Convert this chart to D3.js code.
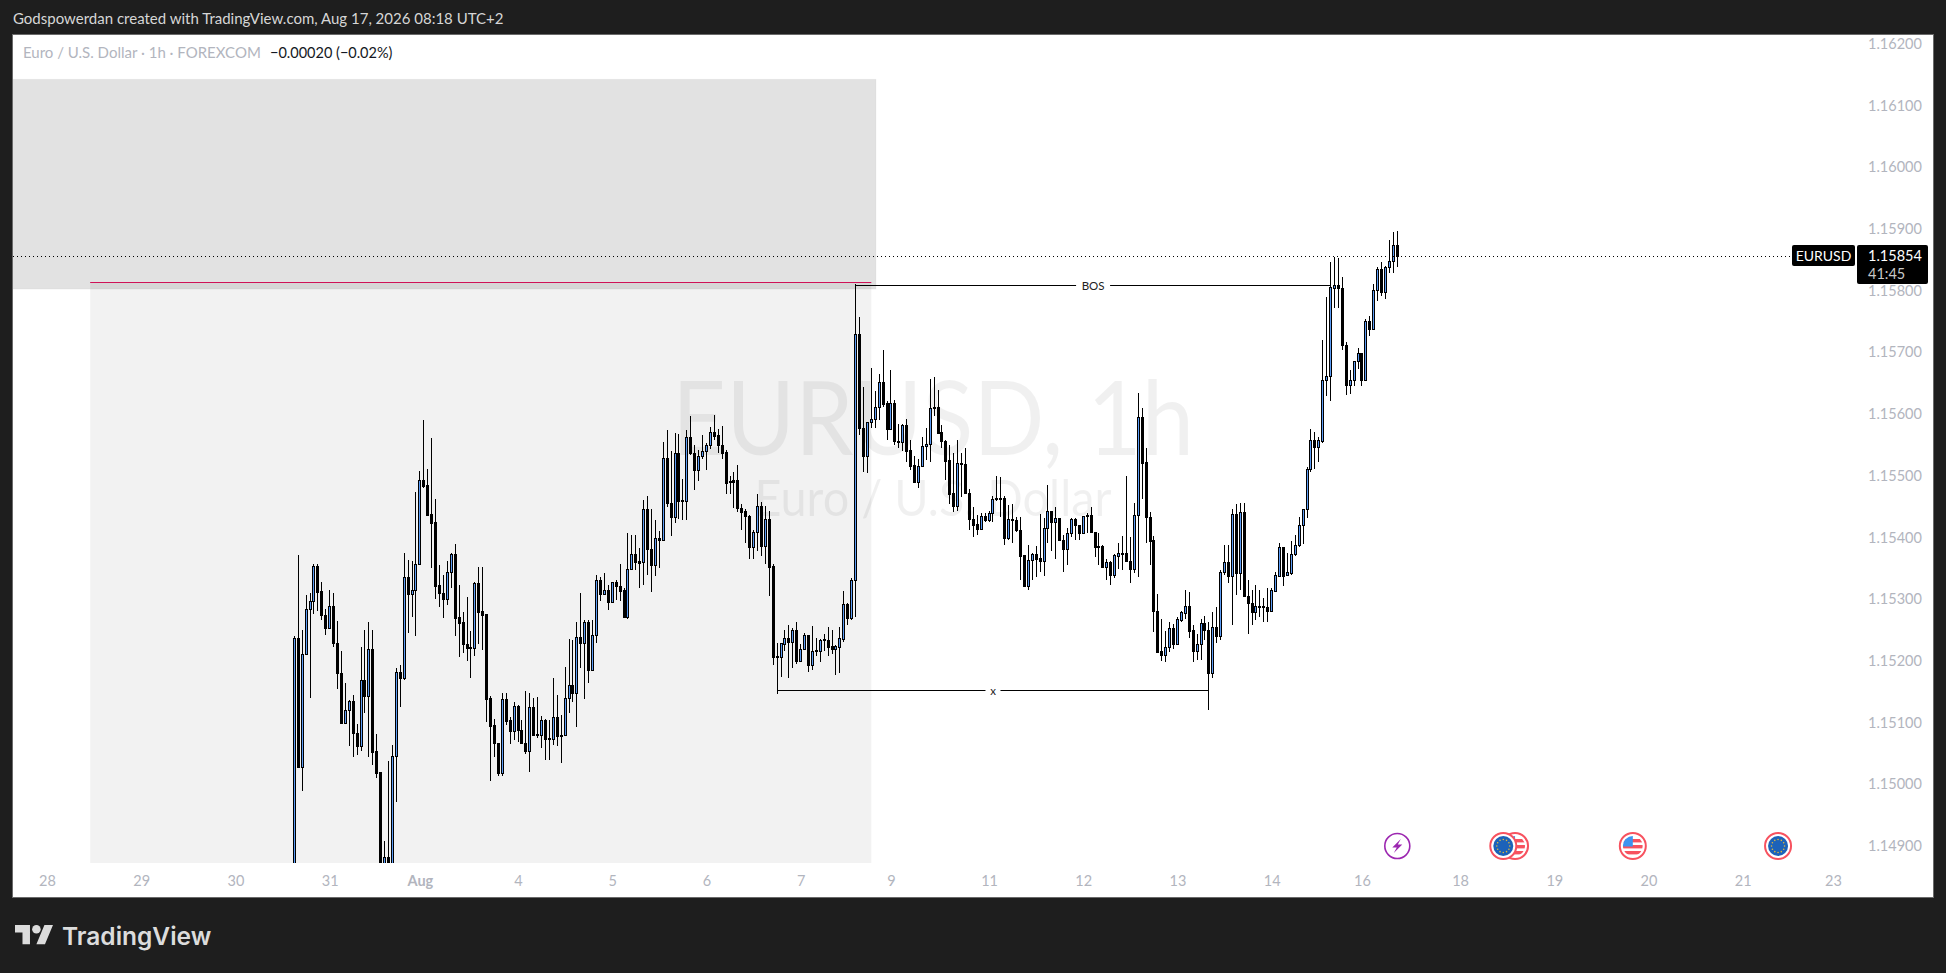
<!DOCTYPE html>
<html>
<head>
<meta charset="utf-8">
<title>EURUSD, 1h</title>
<script src="https://cdn.jsdelivr.net/npm/d3@7"></script>
<style>
  html, body { margin: 0; padding: 0; background: #1e1e1e; overflow: hidden; }
  svg { display: block; }
  text { font-family: "Lato", "Open Sans", sans-serif; }
</style>
</head>
<body>
<script>
// Candles, oldest first
const opens = [
  1.14700,1.15235,1.15027,1.15209,1.15283,1.15295,1.15352,1.15311,1.15273,1.15251,
  1.15287,1.15228,1.15178,1.15097,1.15118,1.15133,1.15082,1.15061,1.15168,1.15142,
  1.15218,1.15052,1.15018,1.14800,1.14880,1.14790,1.15045,1.15180,1.15170,1.15334,
  1.15306,1.15313,1.15355,1.15492,1.15483,1.15436,1.15423,1.15321,1.15309,1.15298,
  1.15342,1.15372,1.15269,1.15261,1.15225,1.15221,1.15220,1.15325,1.15279,1.15274,
  1.15138,1.15094,1.15066,1.15017,1.15136,1.15102,1.15084,1.15126,1.15087,1.15066,
  1.15053,1.15123,1.15080,1.15079,1.15102,1.15073,1.15072,1.15107,1.15079,1.15079,
  1.15138,1.15159,1.15147,1.15237,1.15228,1.15261,1.15184,1.15240,1.15329,1.15306,
  1.15313,1.15294,1.15327,1.15319,1.15313,1.15269,1.15347,1.15371,1.15360,1.15358,
  1.15445,1.15379,1.15354,1.15397,1.15395,1.15527,1.15455,1.15432,1.15535,1.15459,
  1.15457,1.15562,1.15536,1.15508,1.15531,1.15538,1.15548,1.15570,1.15564,1.15549,
  1.15537,1.15490,1.15491,1.15491,1.15447,1.15441,1.15433,1.15383,1.15408,1.15450,
  1.15385,1.15428,1.15352,1.15206,1.15204,1.15226,1.15235,1.15229,1.15249,1.15199,
  1.15217,1.15240,1.15191,1.15216,1.15214,1.15234,1.15233,1.15222,1.15218,1.15221,
  1.15234,1.15290,1.15268,1.15330,1.15729,1.15576,1.15531,1.15585,1.15590,1.15610,
  1.15650,1.15616,1.15575,1.15616,1.15555,1.15553,1.15580,1.15540,1.15516,1.15489,
  1.15514,1.15546,1.15550,1.15610,1.15610,1.15569,1.15554,1.15524,1.15470,1.15449,
  1.15519,1.15518,1.15470,1.15429,1.15420,1.15412,1.15433,1.15426,1.15438,1.15462,
  1.15463,1.15462,1.15398,1.15429,1.15427,1.15410,1.15370,1.15320,1.15362,1.15371,
  1.15365,1.15361,1.15413,1.15441,1.15424,1.15430,1.15394,1.15379,1.15405,1.15428,
  1.15418,1.15405,1.15435,1.15435,1.15407,1.15385,1.15384,1.15351,1.15358,1.15337,
  1.15369,1.15373,1.15373,1.15360,1.15348,1.15435,1.15593,1.15520,1.15431,1.15394,
  1.15280,1.15214,1.15208,1.15221,1.15251,1.15225,1.15265,1.15276,1.15288,1.15248,
  1.15215,1.15225,1.15259,1.15249,1.15179,1.15254,1.15239,1.15343,1.15358,1.15336,
  1.15437,1.15341,1.15439,1.15304,1.15293,1.15278,1.15288,1.15287,1.15285,1.15280,
  1.15312,1.15336,1.15383,1.15337,1.15341,1.15371,1.15387,1.15418,1.15444,1.15509,
  1.15557,1.15545,1.15555,1.15653,1.15660,1.15803,1.15807,1.15802,1.15711,1.15646,
  1.15653,1.15684,1.15698,1.15654,1.15749,1.15737,1.15800,1.15834,1.15797,1.15836,
  1.15847,1.15873
];
const highs = [
  1.15238,1.15370,1.15248,1.15305,1.15308,1.15355,1.15355,1.15326,1.15282,1.15313,
  1.15308,1.15263,1.15214,1.15162,1.15135,1.15143,1.15096,1.15221,1.15248,1.15261,
  1.15248,1.15080,1.15018,1.14907,1.15036,1.15062,1.15187,1.15192,1.15374,1.15362,
  1.15360,1.15472,1.15506,1.15589,1.15509,1.15559,1.15461,1.15354,1.15338,1.15360,
  1.15374,1.15388,1.15321,1.15278,1.15302,1.15247,1.15326,1.15350,1.15350,1.15274,
  1.15141,1.15104,1.15066,1.15146,1.15146,1.15108,1.15131,1.15127,1.15103,1.15150,
  1.15146,1.15138,1.15140,1.15109,1.15105,1.15103,1.15171,1.15143,1.15111,1.15189,
  1.15234,1.15232,1.15261,1.15308,1.15265,1.15265,1.15265,1.15337,1.15334,1.15341,
  1.15321,1.15327,1.15330,1.15355,1.15316,1.15405,1.15403,1.15402,1.15381,1.15459,
  1.15465,1.15444,1.15426,1.15409,1.15553,1.15572,1.15538,1.15568,1.15566,1.15493,
  1.15572,1.15595,1.15548,1.15541,1.15564,1.15552,1.15577,1.15597,1.15575,1.15579,
  1.15540,1.15498,1.15504,1.15516,1.15453,1.15445,1.15435,1.15410,1.15469,1.15456,
  1.15449,1.15441,1.15356,1.15228,1.15227,1.15248,1.15257,1.15251,1.15261,1.15226,
  1.15244,1.15240,1.15255,1.15235,1.15234,1.15242,1.15253,1.15248,1.15224,1.15253,
  1.15312,1.15293,1.15333,1.15809,1.15756,1.15643,1.15585,1.15673,1.15636,1.15664,
  1.15702,1.15620,1.15670,1.15622,1.15583,1.15583,1.15590,1.15556,1.15530,1.15525,
  1.15562,1.15576,1.15656,1.15658,1.15637,1.15581,1.15557,1.15548,1.15535,1.15557,
  1.15535,1.15543,1.15477,1.15448,1.15435,1.15438,1.15438,1.15442,1.15466,1.15498,
  1.15497,1.15465,1.15451,1.15452,1.15432,1.15432,1.15370,1.15387,1.15374,1.15385,
  1.15436,1.15430,1.15484,1.15442,1.15448,1.15430,1.15403,1.15413,1.15430,1.15430,
  1.15418,1.15434,1.15438,1.15448,1.15407,1.15405,1.15386,1.15364,1.15360,1.15372,
  1.15389,1.15401,1.15498,1.15400,1.15454,1.15632,1.15608,1.15543,1.15439,1.15401,
  1.15307,1.15267,1.15247,1.15261,1.15258,1.15269,1.15280,1.15313,1.15310,1.15256,
  1.15242,1.15267,1.15271,1.15261,1.15278,1.15286,1.15346,1.15386,1.15386,1.15444,
  1.15453,1.15454,1.15455,1.15329,1.15314,1.15321,1.15314,1.15300,1.15316,1.15316,
  1.15342,1.15390,1.15383,1.15373,1.15393,1.15403,1.15431,1.15444,1.15512,1.15575,
  1.15569,1.15562,1.15719,1.15788,1.15845,1.15853,1.15851,1.15820,1.15715,1.15670,
  1.15685,1.15705,1.15698,1.15753,1.15758,1.15810,1.15836,1.15845,1.15838,1.15880,
  1.15893,1.15895
];
const lows = [
  1.14650,1.15025,1.14987,1.15208,1.15138,1.15275,1.15280,1.15264,1.15241,1.15251,
  1.15221,1.15153,1.15097,1.15097,1.15061,1.15043,1.15046,1.15053,1.15114,1.15043,
  1.15030,1.15009,1.14780,1.14790,1.14770,1.14760,1.14970,1.15123,1.15168,1.15244,
  1.15270,1.15238,1.15355,1.15478,1.15435,1.15349,1.15299,1.15285,1.15268,1.15289,
  1.15316,1.15238,1.15205,1.15211,1.15199,1.15171,1.15207,1.15226,1.15216,1.15100,
  1.15004,1.15042,1.15012,1.15012,1.15094,1.15063,1.15070,1.15067,1.15063,1.15048,
  1.15019,1.15077,1.15073,1.15058,1.15037,1.15037,1.15062,1.15061,1.15033,1.15076,
  1.15114,1.15132,1.15092,1.15187,1.15136,1.15163,1.15184,1.15228,1.15296,1.15305,
  1.15281,1.15294,1.15297,1.15296,1.15268,1.15267,1.15346,1.15346,1.15317,1.15321,
  1.15337,1.15310,1.15336,1.15349,1.15394,1.15448,1.15401,1.15422,1.15429,1.15427,
  1.15427,1.15532,1.15475,1.15490,1.15525,1.15507,1.15542,1.15556,1.15536,1.15525,
  1.15469,1.15469,1.15447,1.15440,1.15410,1.15390,1.15364,1.15364,1.15377,1.15369,
  1.15356,1.15304,1.15191,1.15145,1.15173,1.15215,1.15171,1.15187,1.15193,1.15199,
  1.15217,1.15181,1.15184,1.15206,1.15197,1.15215,1.15207,1.15210,1.15175,1.15179,
  1.15229,1.15257,1.15264,1.15270,1.15565,1.15505,1.15503,1.15576,1.15576,1.15589,
  1.15610,1.15557,1.15574,1.15548,1.15543,1.15539,1.15520,1.15508,1.15489,1.15479,
  1.15513,1.15524,1.15520,1.15596,1.15568,1.15543,1.15491,1.15453,1.15439,1.15442,
  1.15464,1.15469,1.15410,1.15400,1.15403,1.15412,1.15423,1.15423,1.15424,1.15457,
  1.15432,1.15387,1.15394,1.15389,1.15408,1.15330,1.15319,1.15314,1.15329,1.15335,
  1.15343,1.15336,1.15389,1.15377,1.15364,1.15392,1.15343,1.15354,1.15400,1.15394,
  1.15394,1.15405,1.15405,1.15405,1.15367,1.15353,1.15351,1.15330,1.15322,1.15332,
  1.15347,1.15345,1.15358,1.15325,1.15341,1.15335,1.15461,1.15389,1.15353,1.15246,
  1.15212,1.15199,1.15197,1.15213,1.15218,1.15225,1.15262,1.15266,1.15236,1.15197,
  1.15200,1.15200,1.15232,1.15118,1.15170,1.15227,1.15232,1.15337,1.15325,1.15257,
  1.15305,1.15314,1.15302,1.15242,1.15257,1.15264,1.15270,1.15262,1.15262,1.15280,
  1.15312,1.15335,1.15320,1.15337,1.15338,1.15369,1.15383,1.15388,1.15430,1.15505,
  1.15509,1.15521,1.15551,1.15628,1.15620,1.15771,1.15771,1.15702,1.15629,1.15631,
  1.15644,1.15672,1.15644,1.15654,1.15725,1.15737,1.15782,1.15790,1.15785,1.15827,
  1.15827,1.15837
];
const closes = [
  1.15235,1.15027,1.15209,1.15283,1.15295,1.15352,1.15310,1.15272,1.15251,1.15287,
  1.15228,1.15178,1.15097,1.15118,1.15133,1.15081,1.15061,1.15168,1.15142,1.15218,
  1.15051,1.15017,1.14800,1.14880,1.14790,1.15045,1.15180,1.15170,1.15334,1.15306,
  1.15313,1.15355,1.15492,1.15482,1.15435,1.15422,1.15320,1.15309,1.15298,1.15342,
  1.15372,1.15268,1.15260,1.15225,1.15220,1.15220,1.15325,1.15278,1.15273,1.15137,
  1.15093,1.15066,1.15017,1.15136,1.15101,1.15084,1.15126,1.15087,1.15066,1.15052,
  1.15123,1.15078,1.15079,1.15102,1.15071,1.15072,1.15107,1.15077,1.15078,1.15138,
  1.15159,1.15147,1.15237,1.15228,1.15261,1.15184,1.15240,1.15329,1.15306,1.15313,
  1.15294,1.15327,1.15319,1.15312,1.15269,1.15347,1.15371,1.15359,1.15357,1.15445,
  1.15379,1.15354,1.15397,1.15395,1.15527,1.15455,1.15432,1.15535,1.15458,1.15458,
  1.15562,1.15536,1.15508,1.15531,1.15538,1.15548,1.15570,1.15563,1.15549,1.15536,
  1.15487,1.15488,1.15489,1.15447,1.15440,1.15433,1.15383,1.15408,1.15450,1.15385,
  1.15428,1.15351,1.15205,1.15204,1.15227,1.15235,1.15229,1.15249,1.15199,1.15217,
  1.15240,1.15191,1.15215,1.15214,1.15232,1.15232,1.15221,1.15218,1.15222,1.15235,
  1.15290,1.15268,1.15329,1.15729,1.15576,1.15531,1.15585,1.15590,1.15610,1.15650,
  1.15615,1.15575,1.15616,1.15554,1.15553,1.15580,1.15539,1.15515,1.15489,1.15514,
  1.15546,1.15550,1.15608,1.15609,1.15568,1.15554,1.15523,1.15469,1.15449,1.15519,
  1.15517,1.15470,1.15428,1.15419,1.15412,1.15433,1.15426,1.15438,1.15460,1.15460,
  1.15462,1.15398,1.15428,1.15428,1.15410,1.15369,1.15320,1.15362,1.15371,1.15364,
  1.15361,1.15413,1.15441,1.15424,1.15430,1.15394,1.15379,1.15405,1.15428,1.15418,
  1.15405,1.15434,1.15434,1.15407,1.15383,1.15384,1.15351,1.15358,1.15337,1.15370,
  1.15373,1.15372,1.15360,1.15348,1.15435,1.15593,1.15519,1.15431,1.15393,1.15280,
  1.15213,1.15208,1.15221,1.15251,1.15225,1.15266,1.15277,1.15288,1.15247,1.15215,
  1.15225,1.15259,1.15249,1.15179,1.15254,1.15239,1.15343,1.15358,1.15336,1.15437,
  1.15341,1.15439,1.15303,1.15293,1.15278,1.15288,1.15286,1.15286,1.15280,1.15313,
  1.15337,1.15383,1.15336,1.15342,1.15371,1.15387,1.15418,1.15444,1.15509,1.15557,
  1.15545,1.15556,1.15653,1.15660,1.15804,1.15807,1.15802,1.15711,1.15646,1.15653,
  1.15684,1.15698,1.15654,1.15749,1.15737,1.15800,1.15834,1.15797,1.15836,1.15847,
  1.15873,1.15854
];

// Axis ticks. Day ticks sit on a bar number, counted from the first candle
const priceTicks = [1.149, 1.150, 1.151, 1.152, 1.153, 1.154, 1.155, 1.156, 1.157, 1.158, 1.159, 1.160, 1.161, 1.162];
const dayTickBars = [-63, -39, -15, 9, 32, 57, 81, 105, 129, 152, 177, 201, 225, 249, 272, 297, 321, 345, 369, 392];
const dayTickLabels = ["28", "29", "30", "31", "Aug", "4", "5", "6", "7", "9", "11", "12", "13", "14", "16", "18", "19", "20", "21", "23"];

// Drawings on the chart, bar number and price
const zoneBars = [-72, 148.2];
const zonePrices = [1.16141, 1.15801];
const rangeBars = [-52, 147];
const rangePrices = [1.15812, 1.1400];
const bosBars = [143, 264];
const bosPrice = 1.15808;
const lowBars = [123, 233];
const lowPrice = 1.15151;
const lastPrice = 1.15854;

// Calendar events along the bottom of the pane
const eventBars = [281, 311, 308, 341, 378];
const eventKinds = ["bolt", "us", "eu", "us", "eu"];

let svg = null;
let x = null, y = null;
const width = 1946, height = 973;
const pane = {left: 13, top: 35, right: 1933, bottom: 897, chartBottom: 863};

// Main Process
appendSvg("body");
setupScales();
appendDrawingsBehind();
appendWatermark();
appendCandles();
appendDrawingsFront();
appendAxes();
appendPriceLabels();
appendEvents();
appendHeader();
appendLogo();

function appendSvg(domElement) {
    svg = d3.select(domElement).append("svg")
            .attr("width", width)
            .attr("height", height);

    svg.append("rect")
        .attr("width", width).attr("height", height)
        .attr("fill", "#1e1e1e");

    svg.append("rect")
        .attr("x", pane.left - 0.5).attr("y", pane.top - 0.5)
        .attr("width", pane.right - pane.left + 1)
        .attr("height", pane.bottom - pane.top + 1)
        .attr("fill", "#fff")
        .attr("stroke", "#6a6a6a");

    svg.append("clipPath").attr("id", "chart-clip")
        .append("rect")
        .attr("x", pane.left).attr("y", pane.top)
        .attr("width", pane.right - pane.left)
        .attr("height", pane.chartBottom - pane.top);
}

function setupScales() {
    x = d3.scaleLinear().domain([0, 281]).range([294.3, 1397.3]);
    y = d3.scaleLinear().domain([1.149, 1.162]).range([845, 42.9]);
}

function appendDrawingsBehind() {
    const g = svg.append("g").attr("clip-path", "url(#chart-clip)");

    g.append("rect")
        .attr("x", x(zoneBars[0]))
        .attr("y", y(zonePrices[0]))
        .attr("width", x(zoneBars[1]) - x(zoneBars[0]))
        .attr("height", y(zonePrices[1]) - y(zonePrices[0]))
        .attr("fill", "rgba(0,0,0,0.115)")
        .attr("stroke", "rgba(0,0,0,0.03)");

    g.append("rect")
        .attr("x", x(rangeBars[0]))
        .attr("y", y(rangePrices[0]))
        .attr("width", x(rangeBars[1]) - x(rangeBars[0]))
        .attr("height", y(rangePrices[1]) - y(rangePrices[0]))
        .attr("fill", "rgba(0,0,0,0.05)");

    g.append("line")
        .attr("x1", x(rangeBars[0])).attr("x2", x(rangeBars[1]))
        .attr("y1", Math.round(y(rangePrices[0])) + 0.5)
        .attr("y2", Math.round(y(rangePrices[0])) + 0.5)
        .attr("stroke", "#cf1257");
}

// Symbol name printed faintly behind the candles
function appendWatermark() {
    const g = svg.append("g").attr("fill", "rgba(0,0,0,0.06)").attr("text-anchor", "middle")
        .style("font-family", "'Noto Sans'");

    g.append("text").attr("x", 933).attr("y", 455)
        .attr("font-size", 102)
        .attr("textLength", 522)
        .attr("lengthAdjust", "spacingAndGlyphs")
        .text("EURUSD, 1h");
    g.append("text").attr("x", 933).attr("y", 516)
        .attr("font-size", 51)
        .attr("textLength", 357)
        .attr("lengthAdjust", "spacingAndGlyphs")
        .text("Euro / U.S. Dollar");
}

function appendCandles() {
    const g = svg.append("g").attr("clip-path", "url(#chart-clip)");
    const bars = g.selectAll("g.candle")
        .data(opens.map((d, i) => i))
        .enter().append("g")
        .attr("class", "candle");

    bars.append("line")
        .attr("x1", i => Math.floor(x(i)) + 0.5)
        .attr("x2", i => Math.floor(x(i)) + 0.5)
        .attr("y1", i => Math.round(y(highs[i])))
        .attr("y2", i => Math.round(y(lows[i])))
        .attr("stroke", "#000");

    bars.append("rect")
        .attr("x", i => Math.floor(x(i)) - 0.5)
        .attr("width", 2)
        .attr("y", i => Math.round(y(Math.max(opens[i], closes[i]))) + 0.5)
        .attr("height", i => Math.max(1, Math.round(y(Math.min(opens[i], closes[i]))) - Math.round(y(Math.max(opens[i], closes[i])))))
        .attr("fill", i => closes[i] >= opens[i] ? "#5b9cf6" : "#000")
        .attr("stroke", "#000");
}

function appendLevel(bars, price, label, gapWidth) {
    const ly = Math.round(y(price)) + 0.5;
    const x1 = x(bars[0]), x2 = x(bars[1]), mid = (x1 + x2) / 2;
    const g = svg.append("g");

    g.append("line").attr("x1", x1).attr("x2", mid - gapWidth / 2)
        .attr("y1", ly).attr("y2", ly).attr("stroke", "#000");
    g.append("line").attr("x1", mid + gapWidth / 2).attr("x2", x2)
        .attr("y1", ly).attr("y2", ly).attr("stroke", "#000");
    g.append("text").attr("x", mid).attr("y", ly + 4)
        .attr("text-anchor", "middle")
        .attr("font-size", 11.5)
        .attr("fill", "#222")
        .text(label);
}

function appendDrawingsFront() {
    appendLevel(bosBars, bosPrice, "BOS", 34);
    appendLevel(lowBars, lowPrice, "x", 15);

    // dotted last price line
    svg.append("line")
        .attr("x1", pane.left).attr("x2", 1792)
        .attr("y1", Math.round(y(lastPrice)) + 0.5)
        .attr("y2", Math.round(y(lastPrice)) + 0.5)
        .attr("stroke", "#000")
        .attr("stroke-dasharray", "1 3");
}

function appendAxes() {
    const yAxis = svg.append("g")
        .attr("transform", "translate(1868,0)")
        .call(d3.axisRight(y).tickValues(priceTicks).tickFormat(d3.format(".5f")).tickSize(0).tickPadding(0));
    yAxis.select(".domain").remove();
    yAxis.selectAll("text")
        .attr("dy", "0.38em")
        .attr("fill", "#b2b5be")
        .attr("font-size", 14.5)
        .style("font-family", "'Lato'");

    const xAxis = svg.append("g")
        .attr("transform", "translate(0,872)")
        .call(d3.axisBottom(x).tickValues(dayTickBars).tickFormat((d, i) => dayTickLabels[i]).tickSize(0).tickPadding(4));
    xAxis.select(".domain").remove();
    xAxis.selectAll("text")
        .attr("fill", "#b2b5be")
        .attr("font-size", 14.5)
        .attr("font-weight", (d, i) => dayTickLabels[i] === "Aug" ? 700 : 400);
}

// Boxes at the right hand side, for the symbol and the last price
function appendPriceLabels() {
    const ly = Math.round(y(lastPrice));

    svg.append("rect").attr("x", 1792).attr("y", ly - 11).attr("width", 63).attr("height", 21).attr("rx", 2).attr("fill", "#000");
    svg.append("text").attr("x", 1823.5).attr("y", ly + 5).attr("text-anchor", "middle")
        .attr("fill", "#fff").attr("font-size", 14).text("EURUSD");

    svg.append("rect").attr("x", 1857).attr("y", ly - 11).attr("width", 71).attr("height", 39).attr("rx", 2).attr("fill", "#000");
    svg.append("text").attr("x", 1868).attr("y", ly + 5)
        .attr("fill", "#fff").attr("font-size", 14.5).text(d3.format(".5f")(lastPrice));
    svg.append("text").attr("x", 1868).attr("y", ly + 23)
        .attr("fill", "#c8c8c8").attr("font-size", 14.5).text("41:45");
}

function appendEvents() {
    const cy = 846;
    eventBars.forEach(function(bar, i) {
        const g = svg.append("g").attr("transform", `translate(${x(bar)},${cy})`);
        if (eventKinds[i] === "bolt") {
            g.append("circle").attr("r", 12.5).attr("fill", "#fff").attr("stroke", "#9c27b0").attr("stroke-width", 1.6);
            g.append("path").attr("d", "M3.5 -7 L-5 1.5 L-0.5 1.5 L-3.5 7 L5 -1.5 L0.5 -1.5 Z").attr("fill", "#9c27b0");
        } else {
            g.append("circle").attr("r", 13).attr("fill", "#fff").attr("stroke", "#f7525f").attr("stroke-width", 2);
            if (eventKinds[i] === "eu") appendEuFlag(g);
            else appendUsFlag(g, i);
        }
    });
}

function appendEuFlag(g) {
    g.append("circle").attr("r", 10).attr("fill", "#1c62b9");
    g.selectAll("circle.star")
        .data(d3.range(12))
        .enter().append("circle")
        .attr("class", "star")
        .attr("r", 0.8)
        .attr("cx", d => 6.5 * Math.cos(d * Math.PI / 6))
        .attr("cy", d => 6.5 * Math.sin(d * Math.PI / 6))
        .attr("fill", "#e0b93c");
}

function appendUsFlag(g, i) {
    const id = "us-clip-" + i;
    g.append("clipPath").attr("id", id).append("circle").attr("r", 10);
    const flag = g.append("g").attr("clip-path", `url(#${id})`);
    flag.append("rect").attr("x", -10).attr("y", -10).attr("width", 20).attr("height", 20).attr("fill", "#fff");
    flag.selectAll("rect.stripe")
        .data([-7, -1, 5])
        .enter().append("rect")
        .attr("class", "stripe")
        .attr("x", -10).attr("y", d => d)
        .attr("width", 20).attr("height", 3.4)
        .attr("fill", "#f7525f");
    flag.append("rect").attr("x", -10).attr("y", -10).attr("width", 10).attr("height", 10.5).attr("fill", "#3d94f0");
}

function appendHeader() {
    svg.append("text").attr("x", 13).attr("y", 24)
        .attr("fill", "#d6d6d6").attr("font-size", 15)
        .text("Godspowerdan created with TradingView.com, Aug 17, 2026 08:18 UTC+2");
    svg.append("text").attr("x", 23).attr("y", 58)
        .attr("fill", "#b2b5be").attr("font-size", 15)
        .text("Euro / U.S. Dollar · 1h · FOREXCOM");
    svg.append("text").attr("x", 270).attr("y", 58)
        .attr("fill", "#131722").attr("font-size", 14.5)
        .text("−0.00020 (−0.02%)");
}

function appendLogo() {
    const g = svg.append("g").attr("transform", "translate(15,925) scale(1.07)").attr("fill", "#dcdcdc");
    g.append("path").attr("d", "M14 18H7V7H0V0h14v18zM28 18h-8l7.5-18h8L28 18z");
    g.append("circle").attr("cx", 20).attr("cy", 4).attr("r", 4);
    svg.append("text").attr("x", 62).attr("y", 945)
        .attr("fill", "#dcdcdc").attr("font-size", 24.5).attr("font-weight", 600)
        .style("font-family", "'Inter'")
        .text("TradingView");
}
</script>
</body>
</html>
